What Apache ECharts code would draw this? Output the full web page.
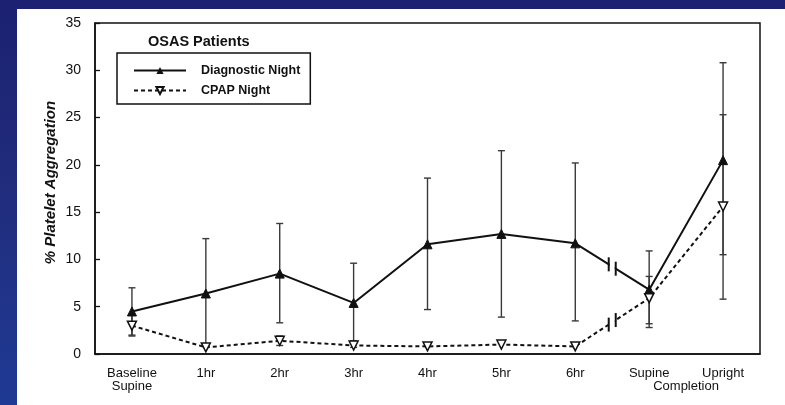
<!DOCTYPE html>
<html><head><meta charset="utf-8">
<script src="https://cdn.jsdelivr.net/npm/echarts@6/dist/echarts.min.js"></script>
<style>
html,body{margin:0;padding:0;width:785px;height:405px;overflow:hidden;background:linear-gradient(180deg,#1b2170 0%,#212c7c 45%,#1f3a94 100%);}
#c{position:absolute;left:17px;top:9px;width:768px;height:396px;background:#fff;}
</style></head><body><div id="c"></div>
<script>
const categories = ['Baseline\nSupine', '1hr', '2hr', '3hr', '4hr', '5hr', '6hr', 'Supine', 'Upright'];
const subLabel = 'Completion';
const diagnosticMean = [4.5, 6.4, 8.5, 5.4, 11.6, 12.7, 11.7, 6.8, 20.5];
const diagnosticLow  = [2.0, 0.8, 3.3, 1.4, 4.7, 3.9, 3.5, 2.8, 10.5];
const diagnosticHigh = [7.0, 12.2, 13.8, 9.6, 18.6, 21.5, 20.2, 10.9, 30.8];
const cpapMean = [3.0, 0.7, 1.4, 0.9, 0.8, 1.0, 0.8, 5.9, 15.6];
const cpapLow  = [1.9, null, 0.9, 0.7, null, null, null, 3.2, 5.8];
const cpapHigh = [4.1, null, 1.9, 1.1, null, null, null, 8.2, 25.3];
const breakAfter = 6;
const yMin = 0, yMax = 35, yStep = 5;

const FONT = 'Arial, "Liberation Sans", sans-serif';
const INK = '#111';

function errData(lo, hi) {
  const out = [];
  lo.forEach((v, i) => { if (v != null && hi[i] != null) out.push([i, v, hi[i]]); });
  return out;
}
function errRender(params, api) {
  const x = api.value(0);
  const p1 = api.coord([x, api.value(1)]);
  const p2 = api.coord([x, api.value(2)]);
  const w = 3.5;
  const st = { stroke: '#3a3a3a', lineWidth: 1.4 };
  return { type: 'group', children: [
    { type: 'line', shape: { x1: p1[0], y1: p1[1], x2: p2[0], y2: p2[1] }, style: st },
    { type: 'line', shape: { x1: p1[0] - w, y1: p1[1], x2: p1[0] + w, y2: p1[1] }, style: st },
    { type: 'line', shape: { x1: p2[0] - w, y1: p2[1], x2: p2[0] + w, y2: p2[1] }, style: st }
  ]};
}
function breakRender(params, api) {
  const i = api.value(0);
  const a = api.coord([i, api.value(1)]);
  const b = api.coord([i + 1, api.value(2)]);
  const mx = (a[0] + b[0]) / 2, my = (a[1] + b[1]) / 2;
  const slope = (b[1] - a[1]) / (b[0] - a[0]);
  const d = 3.5, h = 7;
  const y1 = my - slope * d, y2 = my + slope * d;
  const st = { stroke: INK, lineWidth: 2 };
  return { type: 'group', children: [
    { type: 'polygon', shape: { points: [[mx - d + 1, y1 - slope - 3], [mx + d - 1, y2 + slope - 3], [mx + d - 1, y2 + slope + 3], [mx - d + 1, y1 - slope + 3]] }, style: { fill: '#fff' } },
    { type: 'line', shape: { x1: mx - d, y1: y1 - h, x2: mx - d, y2: y1 + h }, style: st },
    { type: 'line', shape: { x1: mx + d, y1: y2 - h, x2: mx + d, y2: y2 + h }, style: st }
  ]};
}

const chart = echarts.init(document.getElementById('c'), null, { renderer: 'canvas' });
chart.setOption({
  animation: false,
  backgroundColor: '#fff',
  textStyle: { fontFamily: FONT },
  grid: { left: 78, right: 25, top: 14, bottom: 51, outerBoundsMode: 'none', containLabel: false,
    show: true, borderColor: INK, borderWidth: 1.5, backgroundColor: 'transparent' },
  title: { text: 'OSAS Patients', left: 131, top: 25, padding: 0,
    textStyle: { fontSize: 14.5, fontWeight: 'bold', color: INK, fontFamily: FONT } },
  legend: {
    orient: 'vertical', left: 100, top: 44, padding: [11, 10, 7, 16],
    itemWidth: 52, itemHeight: 9, itemGap: 7,
    borderColor: INK, borderWidth: 1.5,
    data: ['Diagnostic Night', 'CPAP Night'],
    textStyle: { fontSize: 12.5, fontWeight: 'bold', color: INK, fontFamily: FONT, padding: [0, 0, 0, 10] }
  },
  xAxis: {
    type: 'category', data: categories, boundaryGap: true,
    axisLine: { lineStyle: { color: INK, width: 1.5 } },
    axisTick: { inside: true, length: 6, lineStyle: { color: INK, width: 1.3 } },
    axisLabel: { interval: 0, color: INK, fontSize: 13, margin: 13, lineHeight: 13, fontFamily: FONT,
      formatter: v => v === 'Upright' ? 'Upright\n{c|' + subLabel + '}' : v,
      rich: { c: { fontSize: 13, color: INK, fontFamily: FONT, lineHeight: 13, padding: [0, 74, 0, 0] } } }
  },
  yAxis: {
    type: 'value', min: yMin, max: yMax, interval: yStep,
    name: '% Platelet Aggregation', nameLocation: 'middle', nameGap: 37, nameMoveOverlap: false,
    nameTextStyle: { fontSize: 15, fontWeight: 'bold', fontStyle: 'italic', color: INK, fontFamily: FONT, padding: [0, 0, 0, 12] },
    axisLine: { show: true, lineStyle: { color: INK, width: 1.5 } },
    axisTick: { show: true, inside: true, length: 5, lineStyle: { color: INK, width: 1.3 } },
    axisLabel: { color: INK, fontSize: 14, margin: 14, fontFamily: FONT },
    splitLine: { show: false }
  },
  series: [
    { name: 'diagErr', type: 'custom', renderItem: errRender, data: errData(diagnosticLow, diagnosticHigh), encode: { x: 0, y: [1, 2] }, z: 1, silent: true },
    { name: 'cpapErr', type: 'custom', renderItem: errRender, data: errData(cpapLow, cpapHigh), encode: { x: 0, y: [1, 2] }, z: 1, silent: true },
    { name: 'Diagnostic Night', type: 'line', data: diagnosticMean, symbol: 'triangle', symbolSize: 9,
      itemStyle: { color: INK, borderColor: INK }, lineStyle: { color: INK, width: 2 }, z: 3 },
    { name: 'CPAP Night', type: 'line', data: cpapMean, symbol: 'triangle', symbolRotate: 180, symbolSize: 9,
      itemStyle: { color: '#fff', borderColor: INK, borderWidth: 1.5 }, lineStyle: { color: INK, width: 2, type: [4, 3] }, z: 3 },
    { name: 'breaks', type: 'custom', renderItem: breakRender, silent: true, z: 4,
      data: [[breakAfter, diagnosticMean[breakAfter], diagnosticMean[breakAfter + 1]], [breakAfter, cpapMean[breakAfter], cpapMean[breakAfter + 1]]],
      encode: { x: 0, y: [1, 2] } }
  ]
});
</script></body></html>
